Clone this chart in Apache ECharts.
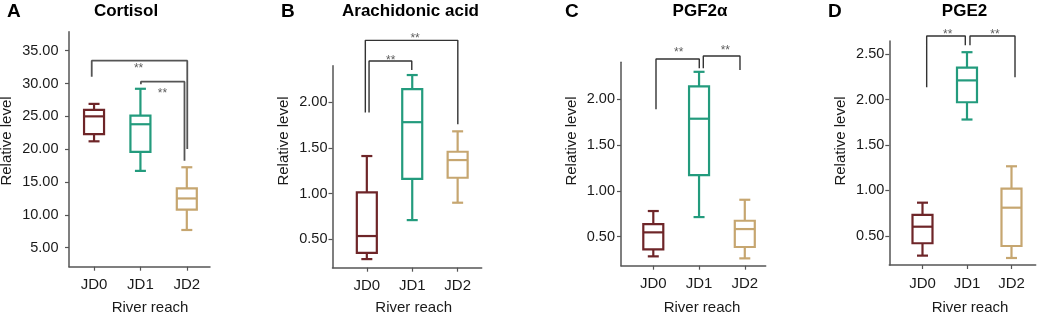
<!DOCTYPE html>
<html>
<head>
<meta charset="utf-8">
<script src="https://cdn.jsdelivr.net/npm/echarts@6/dist/echarts.min.js"></script>
<style>html,body{margin:0;padding:0;background:#fff;}#c{width:1038px;height:315px;}</style>
</head>
<body>
<div id="c"></div>
<script>
// ---------- data ----------
const categories = ['JD0', 'JD1', 'JD2'];
// [min, Q1, median, Q3, max] per river reach
const cortisol = [[21.2, 22.3, 25.0, 26.0, 26.9], [16.7, 19.6, 23.8, 25.1, 29.2], [7.7, 10.8, 12.5, 14.05, 17.25]];
const arachidonic = [[0.284, 0.353, 0.536, 1.013, 1.41], [0.71, 1.16, 1.78, 2.14, 2.295], [0.90, 1.173, 1.366, 1.457, 1.68]];
const pgf2a = [[0.285, 0.362, 0.547, 0.638, 0.78], [0.714, 1.173, 1.788, 2.142, 2.30], [0.263, 0.387, 0.583, 0.674, 0.903]];
const pge2 = [[0.284, 0.42, 0.602, 0.731, 0.866], [1.78, 1.97, 2.21, 2.35, 2.52], [0.258, 0.39, 0.811, 1.02, 1.266]];
// tick labels
const ticksA = [5, 10, 15, 20, 25, 30, 35];
const ticksB = [0.5, 1, 1.5, 2];
const ticksC = [0.5, 1, 1.5, 2];
const ticksD = [0.5, 1, 1.5, 2, 2.5];
// significance brackets: [xLeft, xRight, yLeftEnd, yTop, yRightEnd, starX, starY]
const bracketsA = [[-0.05, 2.01, 31.04, 33.48, 20.03, 0.96, 32.67], [1.01, 1.95, 29.88, 30.28, 18.25, 1.475, 28.86]];
const bracketsB = [[-0.033, 2.004, 1.887, 2.674, 1.756, 1.063, 2.72], [0.049, 0.99, 1.887, 2.448, 2.35, 0.527, 2.488]];
const bracketsC = [[0.059, 1.005, 1.89, 2.44, 2.339, 0.555, 2.538], [1.093, 1.895, 2.339, 2.473, 2.32, 1.574, 2.56]];
const bracketsD = [[0.094, 0.962, 2.134, 2.698, 2.596, 0.566, 2.745], [1.067, 2.079, 2.596, 2.698, 2.244, 1.629, 2.745]];
const titles = ['Cortisol', 'Arachidonic acid', 'PGF2α', 'PGE2'];
const letters = ['A', 'B', 'C', 'D'];

// ---------- layout / style ----------
const colors = ['#6e2528', '#239b7d', '#c6a670'];
const FONT = 'Liberation Sans, Arial, sans-serif';
const panels = [
  {stats: cortisol, ticks: ticksA, br: bracketsA, grid: {left: 69, top: 31.7, width: 141, height: 235}, x: [-0.54, 2.5], y: [2.11, 37.89], ym: 10.5,
   letterX: 7, titleX: 126, yNameX: 7, xNameX: 150},
  {stats: arachidonic, ticks: ticksB, br: bracketsB, grid: {left: 332.5, top: 65.7, width: 149.2, height: 202}, x: [-0.756, 2.53], y: [0.19, 2.397], ym: 5,
   letterX: 281, titleX: 410.5, yNameX: 284, xNameX: 413.7},
  {stats: pgf2a, ticks: ticksC, br: bracketsC, grid: {left: 621, top: 62.3, width: 144.7, height: 203.4}, x: [-0.706, 2.457], y: [0.183, 2.404], ym: 6,
   letterX: 565, titleX: 700, yNameX: 572, xNameX: 702},
  {stats: pge2, ticks: ticksD, br: bracketsD, grid: {left: 889.3, top: 41, width: 146.4, height: 224}, x: [-0.746, 2.544], y: [0.181, 2.643], ym: 5,
   letterX: 828, titleX: 964.5, yNameX: 841, xNameX: 970}
];

const axisColor = '#555';
const grids = [], xAxes = [], yAxes = [], series = [], graphics = [];

function renderBox(params, api) {
  const x = api.value(0);
  const lo = api.coord([x, api.value(1)]);
  const q1 = api.coord([x, api.value(2)]);
  const md = api.coord([x, api.value(3)]);
  const q3 = api.coord([x, api.value(4)]);
  const hi = api.coord([x, api.value(5)]);
  const color = api.visual('color');
  const cx = q1[0];
  const bw = 20, cw = 11;
  const st = {stroke: color, lineWidth: 2.2, fill: null};
  return {
    type: 'group',
    children: [
      {type: 'line', shape: {x1: cx, y1: hi[1], x2: cx, y2: q3[1]}, style: st},
      {type: 'line', shape: {x1: cx, y1: q1[1], x2: cx, y2: lo[1]}, style: st},
      {type: 'line', shape: {x1: cx - cw / 2, y1: hi[1], x2: cx + cw / 2, y2: hi[1]}, style: st},
      {type: 'line', shape: {x1: cx - cw / 2, y1: lo[1], x2: cx + cw / 2, y2: lo[1]}, style: st},
      {type: 'rect', shape: {x: cx - bw / 2, y: q3[1], width: bw, height: q1[1] - q3[1]}, style: {stroke: color, lineWidth: 2.2, fill: '#fff'}},
      {type: 'line', shape: {x1: cx - bw / 2, y1: md[1], x2: cx + bw / 2, y2: md[1]}, style: st}
    ]
  };
}

panels.forEach((p, i) => {
  grids.push(Object.assign({containLabel: false}, p.grid));
  xAxes.push({
    type: 'value', gridIndex: i, min: p.x[0], max: p.x[1],
    axisLine: {show: true, onZero: false, lineStyle: {color: axisColor, width: 1.5}},
    axisTick: {show: true, length: 4, customValues: [0, 1, 2], lineStyle: {color: axisColor, width: 1.2}},
    axisLabel: {customValues: [0, 1, 2], formatter: v => categories[Math.round(v)], color: '#1a1a1a', fontSize: 15, fontFamily: FONT, margin: 11},
    splitLine: {show: false}
  });
  yAxes.push({
    type: 'value', gridIndex: i, min: p.y[0], max: p.y[1],
    axisLine: {show: true, onZero: false, lineStyle: {color: axisColor, width: 1.5}},
    axisTick: {show: true, length: 4, customValues: p.ticks, lineStyle: {color: axisColor, width: 1.2}},
    axisLabel: {customValues: p.ticks, formatter: v => v.toFixed(2), color: '#1a1a1a', fontSize: 14.5, fontFamily: FONT, margin: p.ym},
    splitLine: {show: false}
  });
  series.push({
    type: 'custom', xAxisIndex: i, yAxisIndex: i, renderItem: renderBox, silent: true,
    encode: {x: 0, y: [1, 2, 3, 4, 5]},
    data: p.stats.map((s, k) => ({value: [k].concat(s), itemStyle: {color: colors[k]}}))
  });
  p.br.forEach(b => {
    series.push({
      type: 'line', xAxisIndex: i, yAxisIndex: i, clip: false, silent: true, symbol: 'none', animation: false,
      lineStyle: {color: i === 0 ? '#555' : '#333', width: i === 0 ? 1.8 : 1.4},
      data: [[b[0], b[2]], [b[0], b[3]], [b[1], b[3]], [b[1], b[4]]]
    });
    series.push({
      type: 'scatter', xAxisIndex: i, yAxisIndex: i, clip: false, silent: true, symbolSize: 0.01, animation: false,
      label: {show: true, position: 'inside', formatter: '**', color: '#333', fontSize: 12, fontFamily: FONT, offset: [0, 3]},
      data: [[b[5], b[6]]]
    });
  });
  graphics.push({type: 'text', x: p.letterX, y: 11.5, style: {text: letters[i], font: 'bold 19px ' + FONT, fill: '#000', align: 'left', verticalAlign: 'middle'}});
  graphics.push({type: 'text', x: p.titleX, y: 11, style: {text: titles[i], font: 'bold 17px ' + FONT, fill: '#000', align: 'center', verticalAlign: 'middle'}});
  graphics.push({type: 'text', x: p.yNameX, y: 141, rotation: Math.PI / 2, style: {text: 'Relative level', font: '15px ' + FONT, fill: '#1a1a1a', align: 'center', verticalAlign: 'middle'}});
  graphics.push({type: 'text', x: p.xNameX, y: 307.5, style: {text: 'River reach', font: '15px ' + FONT, fill: '#1a1a1a', align: 'center', verticalAlign: 'middle'}});
});

const chart = echarts.init(document.getElementById('c'), null, {renderer: 'canvas'});
chart.setOption({
  animation: false,
  backgroundColor: '#fff',
  grid: grids,
  xAxis: xAxes,
  yAxis: yAxes,
  series: series,
  graphic: graphics
});
</script>
</body>
</html>
